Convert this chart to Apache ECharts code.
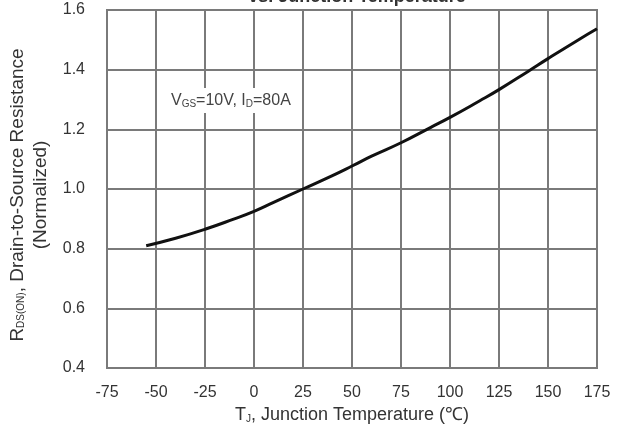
<!DOCTYPE html>
<html>
<head>
<meta charset="utf-8">
<script src="https://cdn.jsdelivr.net/npm/echarts@6/dist/echarts.min.js"></script>
<style>
  html, body { margin: 0; padding: 0; background: #fff; }
  #chart { width: 628px; height: 430px; }
</style>
</head>
<body>
<div id="chart"></div>
<script>
// temperature (C) and normalized on-resistance
var temps = [-55, -40, -25, -10, 0, 10, 25, 40, 50, 60, 75, 90, 100, 115, 125, 140, 150, 165, 175];
var rdsOn = [0.81, 0.835, 0.865, 0.9, 0.925, 0.955, 1.0, 1.045, 1.077, 1.11, 1.155, 1.206, 1.24, 1.295, 1.333, 1.395, 1.437, 1.498, 1.537];

var xTicks = { min: -75, max: 175, step: 25 };
var yTicks = { min: 0.4, max: 1.6, step: 0.2 };

var chart = echarts.init(document.getElementById('chart'));
var points = temps.map(function (t, i) { return [t, rdsOn[i]]; });

var font = 'Liberation Sans, Arial, sans-serif';
var gridColor = '#7a7a7a';
var option = {
    animation: false,
    title: {
        text: 'vs. Junction Temperature',
        left: 352, top: -17,
        textAlign: 'center',
        textStyle: { fontFamily: font, fontSize: 18, fontWeight: 'bold', color: '#333' }
    },
    grid: { left: 107, right: 31, top: 10, bottom: 62, outerBoundsMode: 'none' },
    xAxis: {
        type: 'value',
        min: xTicks.min, max: xTicks.max, interval: xTicks.step,
        name: '{n|T}{s|J}{n|, Junction Temperature (℃)}',
        nameLocation: 'middle', nameGap: 38,
        nameTextStyle: {
            rich: {
                n: { fontFamily: font, fontSize: 18, color: '#333' },
                s: { fontFamily: font, fontSize: 10, color: '#333', padding: [8, 0, 0, 0] }
            }
        },
        axisLine: { show: true, onZero: false, lineStyle: { color: gridColor, width: 2 } },
        axisTick: { show: false },
        axisLabel: { fontFamily: font, fontSize: 16, color: '#333', margin: 17 },
        splitLine: { show: true, lineStyle: { color: gridColor, width: 2 } }
    },
    yAxis: {
        type: 'value',
        min: yTicks.min, max: yTicks.max, interval: yTicks.step,
        name: '{n|R}{s|DS(ON)}{n|, Drain-to-Source Resistance}\n{n|(Normalized)}',
        nameLocation: 'middle', nameGap: 48,
        nameTextStyle: {
            lineHeight: 23,
            padding: [0, 12, 0, 0],
            rich: {
                n: { fontFamily: font, fontSize: 19, color: '#333', lineHeight: 23 },
                s: { fontFamily: font, fontSize: 10, color: '#333', lineHeight: 23, padding: [8, 0, 0, 0] }
            }
        },
        axisLine: { show: true, onZero: false, lineStyle: { color: gridColor, width: 2 } },
        axisTick: { show: false },
        axisLabel: {
            fontFamily: font, fontSize: 16, color: '#333', margin: 22,
            formatter: function (v) { return v.toFixed(1); }
        },
        splitLine: { show: true, lineStyle: { color: gridColor, width: 2 } }
    },
    graphic: [{
        type: 'rect', z: 1, silent: true,
        shape: { x: 107, y: 10, width: 490, height: 358 },
        style: { fill: 'none', stroke: gridColor, lineWidth: 2 }
    }, {
        type: 'text', left: 165, top: 88, z: 10,
        style: {
            text: '{n|V}{s|GS}{n|=10V, I}{s|D}{n|=80A}',
            backgroundColor: '#fff',
            padding: [4, 6, 4, 6],
            rich: {
                n: { fontFamily: font, fontSize: 16, fill: '#444' },
                s: { fontFamily: font, fontSize: 10, fill: '#444', padding: [7, 0, 0, 0] }
            }
        }
    }],
    series: [{
        type: 'line',
        data: points,
        smooth: true,
        showSymbol: false,
        lineStyle: { color: '#111', width: 3 }
    }]
};
chart.setOption(option);
</script>
</body>
</html>
